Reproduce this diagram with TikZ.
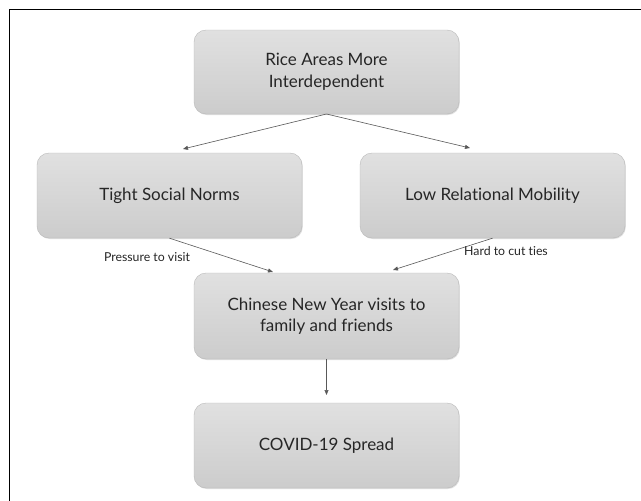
\documentclass[tikz,border=0pt]{standalone}
\usepackage{fontspec}
\setmainfont{Lato}[Ligatures=NoCommon]
\usetikzlibrary{arrows.meta,shadows}
\tikzset{
  box/.style={rectangle, rounded corners=12pt, minimum width=265pt, draw=gray!55, line width=0.4pt,
    top color=gray!24, bottom color=gray!40, align=center, font=\fontsize{17}{21.5}\selectfont,
    text=black!85, drop shadow={shadow xshift=0.8pt, shadow yshift=-1pt, opacity=0.25}},
  conn/.style={draw=black!65, line width=0.6pt, -{Triangle[length=5pt,width=4pt]}},
  lbl/.style={font=\fontsize{12.3}{14}\selectfont, text=black!85}
}
\begin{document}
\begin{tikzpicture}[x=1pt,y=-1pt]
\useasboundingbox (0,0) rectangle (641,501);
\fill[white] (0,0) rectangle (641,501);
\draw[black, line width=1.4pt] (641,9.5) -- (9.5,9.5) -- (9.5,501);
\node[box, minimum height=84pt] (rice) at (326.5,72) {Rice Areas More\\Interdependent};
\node[box, minimum height=85pt] (tight) at (169.5,195.5) {Tight Social Norms};
\node[box, minimum height=85pt] (low) at (492.5,195.5) {Low Relational Mobility};
\node[box, minimum height=86pt] (cny) at (326.5,316) {Chinese New Year visits to\\family and friends};
\node[box, minimum height=85pt] (covid) at (326.5,445.5) {COVID-19 Spread};
\coordinate (ricebot) at (326.5,114);
\coordinate (t1) at (183,149);
\coordinate (t2) at (470,148);
\draw[conn] (ricebot) -- (t1);
\draw[conn] (ricebot) -- (t2);
\coordinate (c1) at (273,272);
\coordinate (c2) at (393,270);
\draw[conn] (tight.south) -- (c1);
\draw[conn] (low.south) -- (c2);
\coordinate (c3) at (326.5,395);
\draw[conn] (cny.south) -- (c3);
\node[lbl] (pv) at (147,257) {Pressure to visit};
\node[lbl] (hc) at (506,251) {Hard to cut ties};
\end{tikzpicture}
\end{document}
